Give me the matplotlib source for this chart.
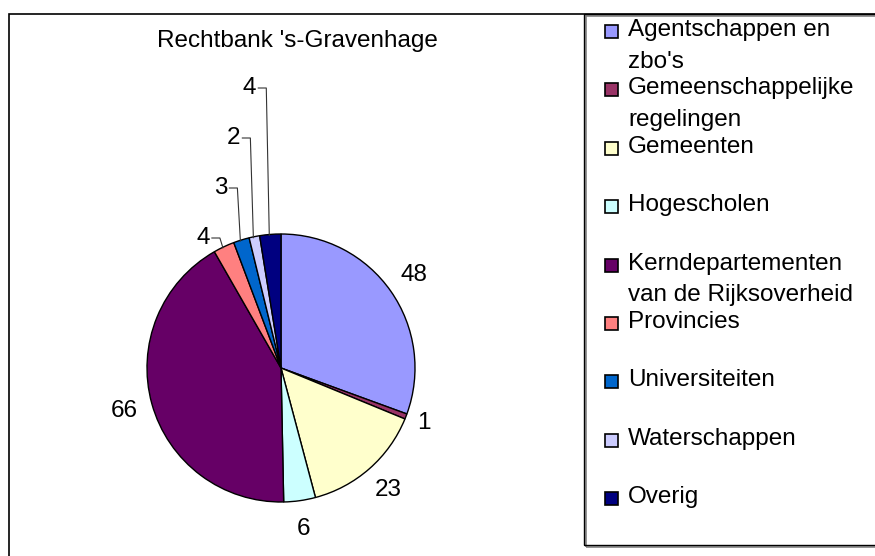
import numpy as np
import matplotlib
matplotlib.use("Agg")
import matplotlib.pyplot as plt
from matplotlib.patches import Rectangle

plt.rcParams['font.family'] = ['Liberation Sans', 'DejaVu Sans']

title = "Rechtbank 's-Gravenhage"
categories = ["Agentschappen en\nzbo's", "Gemeenschappelijke\nregelingen", "Gemeenten",
              "Hogescholen", "Kerndepartementen\nvan de Rijksoverheid", "Provincies",
              "Universiteiten", "Waterschappen", "Overig"]
values = [48, 1, 23, 6, 66, 4, 3, 2, 4]
colors = ["#9999FF", "#993366", "#FFFFCC", "#CCFFFF", "#660066",
          "#FF8080", "#0066CC", "#CCCCFF", "#000080"]

W, H = 875, 556
fig = plt.figure(figsize=(W / 100, H / 100), dpi=100)
ax = fig.add_axes([0, 0, 1, 1])

# pixel helper: y measured from top
def py(y):
    return H - y

# frames
ax.add_patch(Rectangle((8.5, -5), W, py(14) + 5, fill=False, ec='black', lw=1.2))
ax.add_patch(Rectangle((586, py(547)), 300, 547 - 16, fill=False, ec='#808080', lw=1.2))
ax.add_patch(Rectangle((584, py(545)), 300, 545 - 14, fill=False, ec='black', lw=1.0))

ax.text(297, py(41), title, fontsize=17.5, ha='center', va='center')

cx, cy, r = 281, py(368), 134
wedges, _ = ax.pie(values, colors=colors, startangle=90, counterclock=False,
                   center=(cx, cy), radius=r, frame=True,
                   wedgeprops=dict(edgecolor='black', linewidth=1.0))
ax.set_xlim(0, W)
ax.set_ylim(0, H)
ax.set_aspect('equal')
ax.axis('off')

mids = [np.deg2rad((w.theta1 + w.theta2) / 2) for w in wedges]

# direct labels for big slices
for i in range(5):
    a = mids[i]
    d = 1.21 if i != 1 else 1.14
    ax.text(cx + d * r * np.cos(a), cy + d * r * np.sin(a), str(values[i]),
            fontsize=17.5, ha='center', va='center')

# small slices: stacked labels with leader lines
for k, i in enumerate(range(5, 9)):
    a = mids[i]
    ex, ey = cx + r * np.cos(a), cy + r * np.sin(a)
    ly = py(238 - 50 * k)
    x_end = ex - 4
    x_start = x_end - 8
    ax.plot([x_start, x_end, ex - 1], [ly, ly, ey - 1], color='#333333', lw=0.8)
    ax.text(x_start - 2, ly, str(values[i]), fontsize=17.5, ha='right', va='center')

# legend
for i, (lab, col) in enumerate(zip(categories, colors)):
    yc = 31 + 58.4 * i
    ax.add_patch(Rectangle((605, py(yc + 7)), 13, 13, fc=col, ec='black', lw=1.2))
    ax.text(628, py(yc - 12), lab, fontsize=17.5, ha='left', va='top', linespacing=1.58)

fig.savefig("out.png", dpi=100)
